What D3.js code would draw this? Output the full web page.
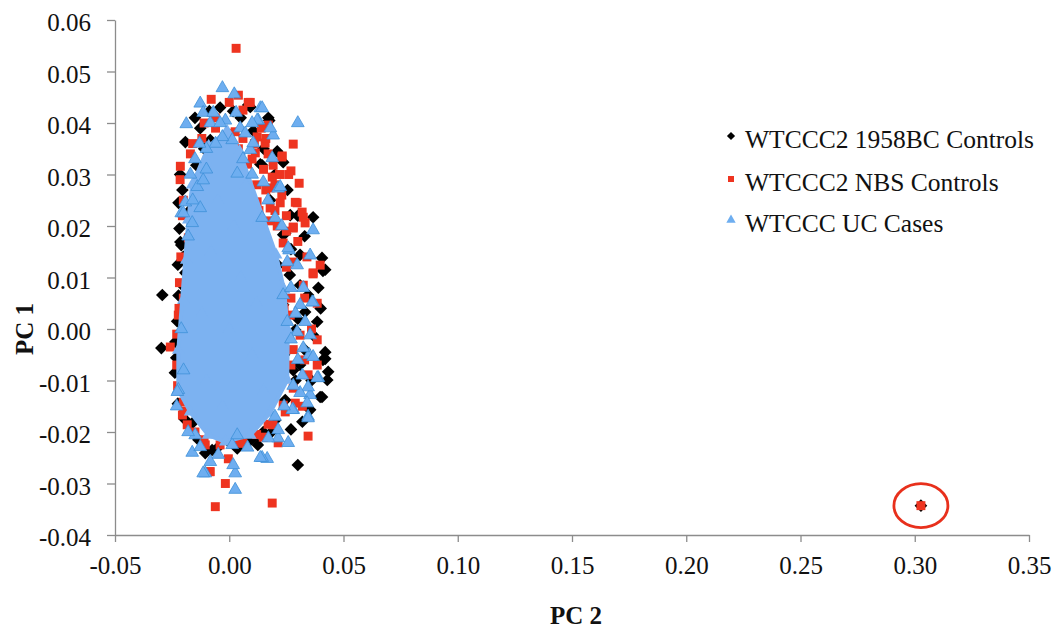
<!DOCTYPE html>
<html><head><meta charset="utf-8">
<script src="https://cdn.jsdelivr.net/npm/d3@7"></script>
<style>
html,body{margin:0;padding:0;background:#fff;}
svg{display:block;}
text{font-family:"Liberation Serif","Times New Roman",serif;fill:#111;}
</style></head>
<body><svg id="chart" width="1058" height="630"></svg>
<script>
// ---------- data (PC 2 = x, PC 1 = y) ----------
const xTicks = [-0.05, 0.00, 0.05, 0.10, 0.15, 0.20, 0.25, 0.30, 0.35];
const xTickLabels = ["-0.05","0.00","0.05","0.10","0.15","0.20","0.25","0.30","0.35"];
const yTicks = [-0.04, -0.03, -0.02, -0.01, 0.00, 0.01, 0.02, 0.03, 0.04, 0.05, 0.06];
const yTickLabels = ["-0.04","-0.03","-0.02","-0.01","0.00","0.01","0.02","0.03","0.04","0.05","0.06"];
const seriesNames = ["WTCCC2 1958BC Controls", "WTCCC2 NBS Controls", "WTCCC UC Cases"];

const controls1958 = [
[-0.0293,0.0066],[-0.0297,-0.0037],[0.0300,-0.0264],[0.0087,-0.0213],[0.0433,-0.0083],[0.0406,-0.0132],
[0.0410,-0.0060],[0.0406,0.0138],[0.0410,0.0113],[0.0367,0.0217],[-0.0192,0.0363],[-0.0205,0.0270],
[-0.0127,0.0390],[0.0017,0.0423],[0.0175,0.0405],[0.0083,0.0435],[0.0236,0.0324],[0.0136,0.0320],
[-0.0210,0.0163],[-0.0200,0.0085],[0.0245,0.0186],[-0.0087,0.0423],[-0.0214,0.0169],[-0.0201,0.0140],
[-0.0192,0.0109],[-0.0205,0.0085],[-0.0201,0.0047],[-0.0236,-0.0025],[-0.0232,-0.0056],[0.0236,0.0183],
[0.0310,0.0144],[0.0420,0.0115],[0.0310,0.0085],[0.0345,0.0066],[0.0236,0.0047],[0.0332,0.0033],
[0.0385,0.0014],[0.0367,-0.0012],[0.0420,-0.0045],[0.0420,-0.0058],[0.0429,-0.0099],[0.0398,-0.0132],
[0.0280,-0.0080],[0.0149,-0.0200],[0.0101,-0.0212],[0.0092,-0.0216],[-0.0105,-0.0241],[-0.0009,-0.0216],
[-0.0162,-0.0183],[-0.0052,-0.0231],[-0.0083,0.0367],[0.0171,0.0410],[0.0144,0.0318],[0.0092,0.0431],
[0.0179,0.0250],[0.0144,0.0192],[0.0267,0.0221],[0.0214,0.0124],[0.0289,-0.0002],[0.0310,-0.0070],
[0.0245,-0.0138],[0.0201,-0.0177],[0.0354,-0.0157],[-0.0192,-0.0128],[-0.0214,-0.0089],[-0.0144,0.0318],
[-0.0171,0.0231],[-0.0215,0.0300],[-0.0222,0.0245],[-0.0218,0.0195],[-0.0225,0.0125],[-0.0222,0.0065],
[-0.0228,0.0015],[-0.0238,-0.0085],[-0.0225,-0.0145],[-0.0195,-0.0175],[-0.0135,-0.0215],[-0.0075,-0.0235],
[0.0035,-0.0232],[0.0125,-0.0225],[0.0185,-0.0200],[0.0270,0.0155],[0.0330,0.0180],[0.0300,0.0220],
[0.0255,0.0270],[0.0200,0.0300],[0.0105,0.0385],[0.0050,0.0410],[-0.0040,0.0430],[-0.0150,0.0410],
[0.0300,0.0020],[0.0330,-0.0040],[0.0360,-0.0100],[0.0320,-0.0180],[0.0270,-0.0195],[0.0390,0.0080],
[0.0265,0.0105],[0.0290,-0.0100],[0.0240,-0.0050],[0.0400,0.0040],[0.0150,0.0350],[0.0210,0.0345],
[-0.0110,0.0350],[0.3027,-0.0343]
];

const controlsNBS = [
[0.0030,0.0545],[-0.0061,-0.0345],[0.0188,-0.0338],[-0.0017,-0.0300],[-0.0087,-0.0277],[-0.0004,-0.0252],
[0.0345,-0.0208],[0.0214,-0.0221],[-0.0184,-0.0186],[-0.0205,-0.0167],[-0.0258,-0.0035],[-0.0201,0.0060],
[0.0385,0.0050],[0.0035,-0.0221],[0.0289,-0.0144],[-0.0214,0.0316],[0.0280,0.0359],[0.0270,0.0307],
[0.0306,0.0283],[-0.0170,0.0340],[0.0083,0.0440],[-0.0079,0.0446],[0.0230,0.0334],[0.0289,0.0246],
[0.0324,0.0217],[0.0280,0.0196],[0.0367,0.0107],[0.0398,0.0124],[0.0040,0.0454],[0.0232,0.0336],
[0.0188,0.0295],[0.0192,0.0318],[0.0157,0.0361],[0.0122,0.0373],[0.0171,0.0396],[0.0092,0.0440],
[0.0114,0.0342],[0.0179,0.0274],[0.0297,0.0245],[0.0319,0.0227],[0.0332,0.0206],[0.0280,0.0198],
[0.0223,0.0245],[0.0179,0.0235],[0.0122,0.0247],[0.0149,0.0202],[0.0236,0.0167],[0.0367,0.0109],
[0.0280,0.0130],[0.0324,0.0085],[0.0223,0.0080],[0.0267,0.0027],[0.0223,0.0004],[0.0385,-0.0021],
[0.0310,-0.0012],[0.0210,0.0047],[0.0236,-0.0148],[0.0245,-0.0161],[0.0192,-0.0186],[0.0149,-0.0210],
[0.0385,-0.0070],[0.0345,-0.0089],[0.0280,-0.0115],[-0.0083,-0.0277],[-0.0105,-0.0225],[-0.0201,-0.0142],
[0.0048,-0.0186],[-0.0201,0.0250],[-0.0179,0.0177],[-0.0171,0.0118],[-0.0223,0.0027],[0.0079,0.0235],
[0.0092,0.0254],[-0.0140,0.0289],[-0.0009,0.0303],[0.0039,0.0289],[0.0079,0.0274],[0.0026,0.0383],
[-0.0061,0.0410],[-0.0215,0.0290],[-0.0205,0.0220],[-0.0212,0.0140],[-0.0218,0.0090],[-0.0220,0.0040],
[-0.0230,-0.0010],[-0.0230,-0.0070],[-0.0226,-0.0110],[-0.0200,-0.0160],[-0.0150,-0.0200],[-0.0110,-0.0215],
[-0.0040,-0.0225],[0.0060,-0.0222],[0.0120,-0.0205],[0.0170,-0.0185],[0.0250,0.0220],[0.0210,0.0200],
[0.0260,0.0300],[0.0170,0.0340],[0.0140,0.0390],[0.0060,0.0425],[0.0000,0.0440],[-0.0110,0.0400],
[0.0250,0.0120],[0.0300,0.0170],[0.0340,0.0140],[0.0270,0.0060],[0.0330,0.0060],[0.0280,-0.0040],
[0.0330,-0.0060],[0.0270,-0.0070],[0.0320,-0.0150],[0.0220,-0.0110],[0.0360,0.0000],[0.0200,0.0120],
[0.0240,0.0040],[0.0100,0.0330],[0.0150,0.0310],[0.0200,0.0280],[0.0160,0.0270],[0.0120,0.0280],
[0.0200,0.0230],[0.0230,0.0260],[0.0180,0.0210],[0.0110,0.0360],[0.0060,0.0370],[0.0160,0.0370],
[0.0220,0.0300],[0.0250,0.0190],[0.0130,0.0230],[0.0080,0.0320],[0.0040,0.0350],[0.0000,0.0380],
[-0.0060,0.0390],[-0.0120,0.0370],[-0.0160,0.0360],[0.3027,-0.0343]
];

const ucCases = [
[-0.0030,0.0468],[0.0022,0.0456],[-0.0188,0.0398],[0.0300,0.0400],[-0.0127,0.0438],[-0.0114,0.0420],
[0.0136,0.0429],[0.0192,0.0376],[0.0127,0.0405],[0.0180,0.0390],[0.0035,0.0302],[0.0214,0.0273],
[0.0149,0.0285],[0.0367,0.0192],[0.0354,0.0143],[0.0262,0.0153],[-0.0192,0.0246],[-0.0210,0.0225],
[-0.0140,0.0276],[0.0367,0.0052],[0.0332,0.0014],[0.0350,-0.0050],[0.0390,-0.0095],[0.0354,-0.0128],
[0.0345,-0.0170],[0.0258,-0.0221],[0.0166,-0.0252],[0.0144,-0.0250],[0.0026,-0.0312],[0.0026,-0.0280],
[0.0017,-0.0264],[-0.0105,-0.0280],[-0.0162,-0.0240],[-0.0223,-0.0118],[-0.0048,-0.0244],[0.0214,-0.0212],
[0.0280,-0.0157],[0.0013,0.0367],[-0.0017,0.0405],[0.0048,0.0390],[-0.0083,0.0400],[-0.0030,0.0373],
[-0.0114,0.0289],[0.0092,0.0348],[0.0144,0.0429],[0.0122,0.0405],[0.0188,0.0332],[0.0223,0.0276],
[0.0105,0.0361],[0.0258,0.0157],[0.0297,0.0124],[0.0254,0.0130],[0.0324,0.0080],[0.0236,0.0066],
[0.0310,0.0047],[0.0363,0.0052],[0.0254,0.0014],[0.0297,-0.0006],[0.0354,-0.0012],[0.0324,-0.0037],
[0.0144,0.0216],[0.0201,0.0216],[0.0385,-0.0095],[0.0345,-0.0113],[0.0310,-0.0124],[0.0341,-0.0144],
[0.0276,-0.0157],[0.0345,-0.0173],[0.0214,-0.0196],[0.0171,-0.0212],[0.0136,-0.0250],[0.0367,-0.0054],
[-0.0227,-0.0122],[-0.0149,-0.0206],[-0.0127,-0.0229],[-0.0083,-0.0258],[-0.0114,-0.0280],[0.0013,-0.0225],
[0.0035,-0.0206],[-0.0201,0.0225],[-0.0162,0.0206],[-0.0127,0.0235],[0.0230,0.0200],[0.0170,0.0250],
[0.0100,0.0300],[0.0060,0.0330],[-0.0060,0.0360],[-0.0100,0.0350],[0.0100,0.0400],[0.0270,0.0080],
[0.0290,0.0030],[0.0270,-0.0020],[0.0300,-0.0060],[0.0280,-0.0110],[0.0240,-0.0150],[0.0200,-0.0170],
[0.0320,-0.0090],[-0.0200,-0.0080],[-0.0210,0.0000],[-0.0180,0.0180],[-0.0170,0.0300],[-0.0230,-0.0150],
[-0.0180,-0.0200],[0.0080,-0.0230],[-0.0150,0.0330],[-0.0130,0.0360],[-0.0070,0.0420],[-0.0040,0.0400],
[0.0030,0.0420],[0.0070,0.0380],[-0.0160,0.0250],[-0.0100,0.0310]
];

// densely packed UC cases forming the solid core of the cloud
const ucCore = [
[-0.0010,0.0385],[-0.0090,0.0355],[0.0045,0.0345],[-0.0105,0.0328],[-0.0162,0.0280],[-0.0179,0.0212],
[-0.0188,0.0134],[-0.0201,0.0056],[-0.0223,-0.0041],[-0.0223,-0.0118],[-0.0171,-0.0161],[-0.0092,-0.0206],
[-0.0017,-0.0219],[0.0092,-0.0206],[0.0179,-0.0163],[0.0254,-0.0099],[0.0256,-0.0002],[0.0240,0.0076],
[0.0205,0.0144],[0.0130,0.0212],[0.0072,0.0280],[0.0000,0.0000],[0.0050,0.0100],[-0.0100,-0.0100],
[0.0100,-0.0050],[-0.0080,0.0150],[0.0020,0.0200],[-0.0050,0.0250],[0.0120,0.0050],[-0.0120,0.0030],
[0.0150,-0.0120],[-0.0030,-0.0150]
];

// ---------- chart ----------
const svg = d3.select("#chart");
const x = d3.scaleLinear().domain([-0.05, 0.35]).range([115, 1029]);
const y = d3.scaleLinear().domain([-0.04, 0.06]).range([535, 20]);
const axisColor = "#8c8c8c";

const xAxis = svg.append("g").attr("transform", `translate(0,${y(-0.04)})`)
  .call(d3.axisBottom(x).tickValues(xTicks).tickSize(7).tickSizeOuter(0).tickPadding(14)
        .tickFormat((d, i) => xTickLabels[i]));
const yAxis = svg.append("g").attr("transform", `translate(${x(-0.05)},0)`)
  .call(d3.axisLeft(y).tickValues(yTicks).tickSize(8).tickSizeOuter(0).tickPadding(16)
        .tickFormat((d, i) => yTickLabels[i]));
[xAxis, yAxis].forEach(g => {
  g.selectAll("path, line").attr("stroke", axisColor).attr("stroke-width", 1.3);
  g.selectAll("text").attr("font-family", '"Liberation Serif","Times New Roman",serif')
    .attr("font-size", 25).attr("fill", "#111");
});
yAxis.selectAll("text").attr("dy", "0.42em");
xAxis.selectAll("text").attr("dy", "0.72em");

// axis titles
svg.append("text").attr("transform", `translate(33,${y(0.0)}) rotate(-90)`)
  .attr("text-anchor", "middle").attr("font-size", 25).attr("font-weight", "bold").text("PC 1");
svg.append("text").attr("x", 576).attr("y", 624)
  .attr("text-anchor", "middle").attr("font-size", 25).attr("font-weight", "bold").text("PC 2");

const RED = "#ee3420", BLUE = "#6eaef0", BLUE_EDGE = "#3f90d8", CORE = "#7cb2f1";
const diamond = d3.symbol(d3.symbolSquare, 80)();
const square = d3.symbol(d3.symbolSquare, 80)();
const tri = d3.symbol(d3.symbolTriangle, 70)();

const plot = svg.append("g");
plot.selectAll("path.s1").data(controls1958).join("path").attr("class", "s1")
  .attr("d", diamond).attr("fill", "#000")
  .attr("transform", d => `translate(${x(d[0])},${y(d[1])}) rotate(45)`);
plot.selectAll("path.s2").data(controlsNBS).join("path").attr("class", "s2")
  .attr("d", square).attr("fill", RED)
  .attr("transform", d => `translate(${x(d[0])},${y(d[1])})`);

// dense core of UC cases: filled hull of the packed points plus their markers
const hull = d3.polygonHull(ucCore.map(d => [x(d[0]), y(d[1])]));
plot.append("path").attr("d", "M" + hull.join("L") + "Z").attr("fill", CORE)
  .attr("stroke", CORE).attr("stroke-width", 4).attr("stroke-linejoin", "round");
plot.selectAll("path.core").data(ucCore).join("path").attr("class", "core")
  .attr("d", tri).attr("fill", CORE)
  .attr("transform", d => `translate(${x(d[0])},${y(d[1])})`);
plot.selectAll("path.s3").data(ucCases).join("path").attr("class", "s3")
  .attr("d", tri).attr("fill", BLUE).attr("stroke", BLUE_EDGE).attr("stroke-width", 0.8)
  .attr("transform", d => `translate(${x(d[0])},${y(d[1])})`);

// highlight ring around the outlying sample
const outlier = controlsNBS[controlsNBS.length - 1];
svg.append("ellipse").attr("cx", x(outlier[0])).attr("cy", y(outlier[1]))
  .attr("rx", 27).attr("ry", 22).attr("fill", "none").attr("stroke", "#e8301c").attr("stroke-width", 2.8);

// legend
const legend = svg.append("g");
const legendY = [140, 183, 224];
const legendMarks = [
  {d: d3.symbol(d3.symbolSquare, 34)(), fill: "#000", rot: 45},
  {d: d3.symbol(d3.symbolSquare, 36)(), fill: RED, rot: 0},
  {d: d3.symbol(d3.symbolTriangle, 38)(), fill: BLUE, rot: 0}
];
seriesNames.forEach((name, i) => {
  legend.append("path").attr("d", legendMarks[i].d).attr("fill", legendMarks[i].fill)
    .attr("transform", `translate(731,${legendY[i] - 4}) rotate(${legendMarks[i].rot})`);
  legend.append("text").attr("x", 745).attr("y", legendY[i] + 8).attr("font-size", 25.5).text(name);
});
</script></body></html>
